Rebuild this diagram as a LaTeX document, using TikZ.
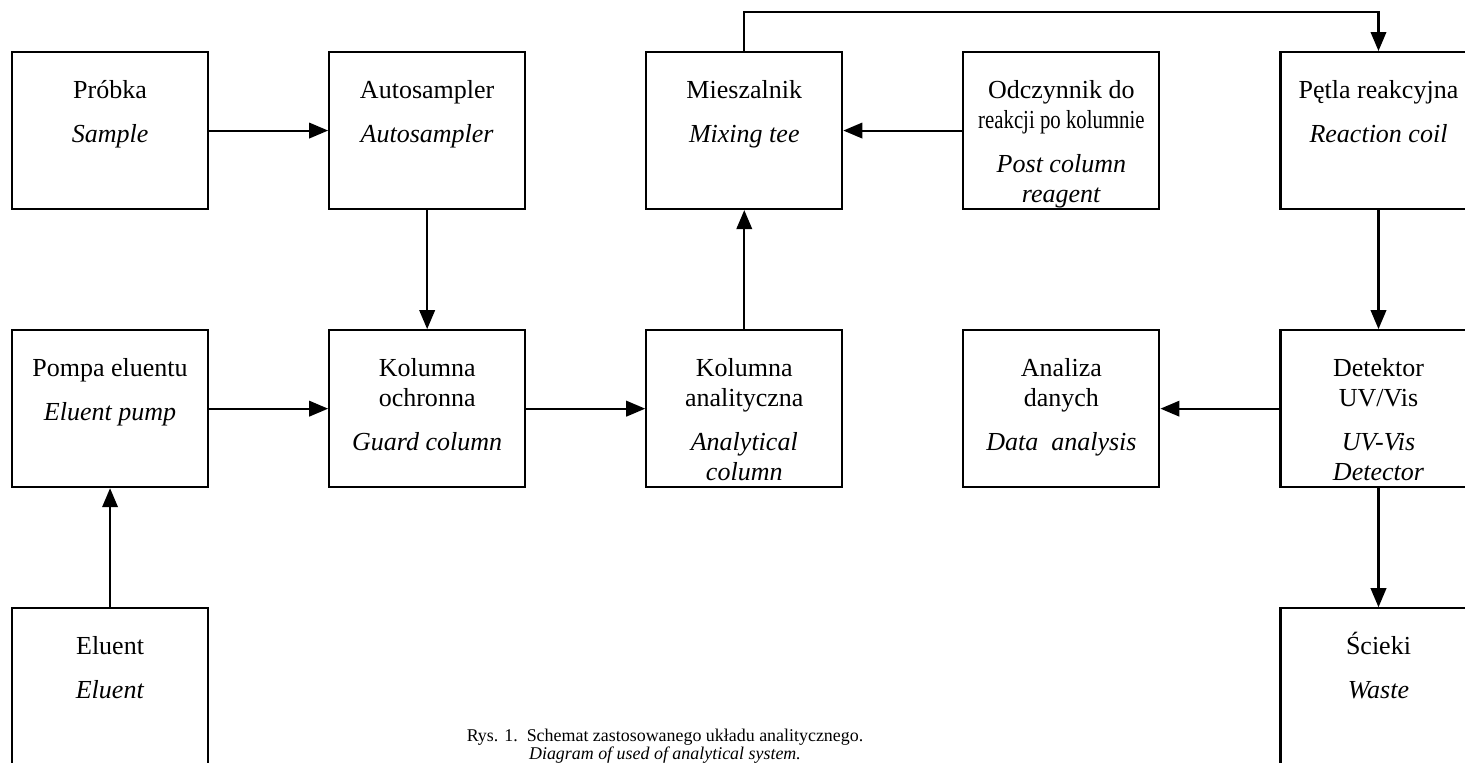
\documentclass[tikz,border=0pt]{standalone}
\usepackage{fontspec}
\setmainfont{Liberation Serif}
\usepackage{graphicx}
\usetikzlibrary{arrows.meta, positioning}

% box text: Polish name on top, English name in italics below
\newcommand{\blocktext}[2]{%
  \parbox[c][2.98cm][t]{3.76cm}{\centering\rule{0pt}{0.85cm}#1\\[0.28cm]\textit{#2}}}

\begin{document}
\begin{tikzpicture}[
    node distance=2.38cm,
    block/.style={draw, line width=1.2pt, minimum width=3.92cm, minimum height=3.14cm,
        inner sep=0.08cm, font=\fontsize{14.8}{17.1}\selectfont},
    edge/.style={line width=1.2pt},
    >={Triangle[length=3.8mm, width=3.1mm]}
]
    \useasboundingbox[fill=white] (0,0) rectangle (29.3,-15.24);

    % top row
    \node[block, anchor=north west] (probka) at (0.22,-1.02) {\blocktext{Próbka}{Sample}};
    \node[block, right=of probka] (autosampler) {\blocktext{Autosampler}{Autosampler}};
    \node[block, right=of autosampler] (mieszalnik) {\blocktext{Mieszalnik}{Mixing tee}};
    \node[block, right=of mieszalnik] (odczynnik) {\blocktext{Odczynnik do\\\scalebox{0.8}[1]{reakcji po kolumnie}}{Post column\\reagent}};
    \node[block, right=of odczynnik] (petla) {\blocktext{Pętla reakcyjna}{Reaction coil}};

    % middle row
    \node[block, below=of probka] (pompa) {\blocktext{Pompa eluentu}{Eluent pump}};
    \node[block, right=of pompa] (ochronna) {\blocktext{Kolumna\\ochronna}{Guard column}};
    \node[block, right=of ochronna] (analityczna) {\blocktext{Kolumna\\analityczna}{Analytical\\column}};
    \node[block, right=of analityczna] (analiza) {\blocktext{Analiza\\danych}{Data~~analysis}};
    \node[block, right=of analiza] (detektor) {\blocktext{Detektor\\UV/Vis}{UV-Vis\\Detector}};

    % bottom row
    \node[block, below=of pompa] (eluent) {\blocktext{Eluent}{Eluent}};
    \node[block, below=of detektor] (scieki) {\blocktext{Ścieki}{Waste}};

    \draw[edge, ->] (probka) -- (autosampler);
    \draw[edge, ->] (autosampler) -- (ochronna);
    \draw[edge, ->] (eluent) -- (pompa);
    \draw[edge, ->] (pompa) -- (ochronna);
    \draw[edge, ->] (ochronna) -- (analityczna);
    \draw[edge, ->] (analityczna) -- (mieszalnik);
    \draw[edge, ->] (odczynnik) -- (mieszalnik);
    \draw[edge, ->] (mieszalnik.north) -- ++(0,0.78) -| (petla.north);
    \draw[edge, ->] (petla) -- (detektor);
    \draw[edge, ->] (detektor) -- (analiza);
    \draw[edge, ->] (detektor) -- (scieki);

    \node[align=center, font=\fontsize{10.2}{9.3}\selectfont] (caption) at (13.3,-14.92)
        {Rys. 1.\ \ Schemat zastosowanego układu analitycznego.\\\textit{Diagram of used of analytical system.}};
\end{tikzpicture}
\end{document}
